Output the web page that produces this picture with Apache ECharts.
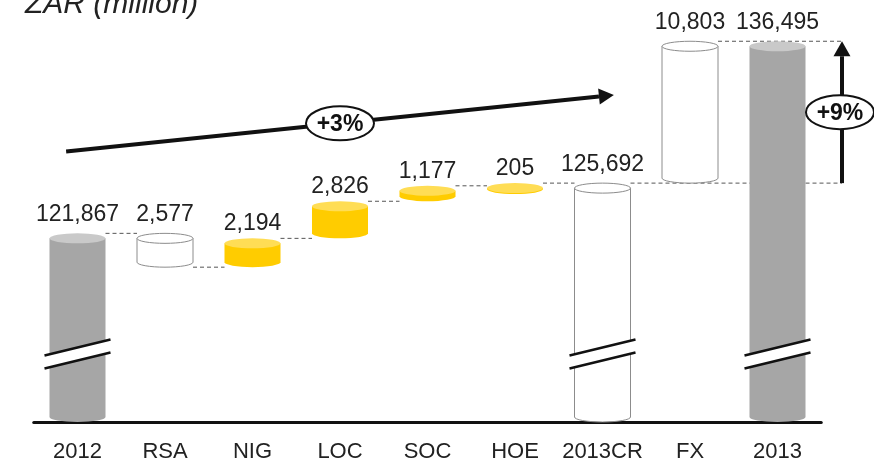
<!DOCTYPE html>
<html lang="en">
<head>
<meta charset="utf-8">
<title>ZAR waterfall</title>
<script src="https://cdn.jsdelivr.net/npm/echarts@6/dist/echarts.min.js"></script>
<style>
    html, body { margin: 0; padding: 0; background: #fff; }
    #main { width: 874px; height: 464px; }
</style>
</head>
<body>
<div id="main"></div>
<script type="text/javascript">
    // data
    var categories = ['2012', 'RSA', 'NIG', 'LOC', 'SOC', 'HOE', '2013CR', 'FX', '2013'];
    var values = [121867, -2577, 2194, 2826, 1177, 205, 125692, 10803, 136495];
    var isTotal = [true, false, false, false, false, false, true, false, true];
    var barColors = ['grey', 'white', 'yellow', 'yellow', 'yellow', 'yellow', 'white', 'white', 'grey'];
    var growthLabels = ['+3%', '+9%'];
    var trendValues = [128100, 132400];   // start / end level of the +3% arrow

    var yMin = 107500, yMax = 138000;     // axis is broken: starts far above zero

    var palette = {
        grey:   { body: '#a6a6a6', top: '#c9c9c9', stroke: null },
        yellow: { body: '#ffcc00', top: '#ffdd55', stroke: null },
        white:  { body: '#ffffff', top: '#ffffff', stroke: '#8c8c8c' }
    };
    var font = "'Liberation Sans', Arial, sans-serif";

    // running totals -> low/high of every cylinder
    var lows = [], highs = [], levels = [];
    var run = 0;
    for (var i = 0; i < values.length; i++) {
        if (isTotal[i]) {
            lows.push(yMin); highs.push(values[i]); run = values[i];
        } else {
            var next = run + values[i];
            lows.push(Math.min(run, next)); highs.push(Math.max(run, next)); run = next;
        }
        levels.push(run);
    }

    function ellipsePath(cx, cy, rx, ry) {
        return 'M' + (cx - rx) + ' ' + cy +
            'A' + rx + ' ' + ry + ' 0 1 0 ' + (cx + rx) + ' ' + cy +
            'A' + rx + ' ' + ry + ' 0 1 0 ' + (cx - rx) + ' ' + cy + 'Z';
    }

    function barWidth(api) { return api.size([1, 0])[0] * 0.64; }

    function renderBar(params, api) {
        var i = params.dataIndex;
        var pt = api.coord([i, highs[i]]);
        var cx = pt[0], yTop = pt[1];
        var yBot = api.coord([i, lows[i]])[1];
        var rx = barWidth(api) / 2, ry = 5;
        var ct = yTop + ry;
        var cb = Math.max(yBot - ry, ct + 1);
        var xl = cx - rx, xr = cx + rx;
        var pal = palette[barColors[i]];
        var children = [];
        children.push({
            type: 'path',
            shape: { pathData: 'M' + xl + ' ' + ct + 'L' + xl + ' ' + cb +
                'A' + rx + ' ' + ry + ' 0 0 0 ' + xr + ' ' + cb + 'L' + xr + ' ' + ct + 'Z' },
            style: { fill: pal.body, stroke: pal.stroke, lineWidth: 1 }
        });
        children.push({
            type: 'path',
            shape: { pathData: ellipsePath(cx, ct, rx, ry) },
            style: { fill: pal.top, stroke: pal.stroke, lineWidth: 1 }
        });
        if (isTotal[i]) {
            // axis break marks
            var yc = api.coord([i, yMin])[1] - 68;
            var ext = 5, sl = 8, g = 6.5;
            children.push({
                type: 'polygon',
                shape: { points: [[xl - ext, yc - g + sl], [xr + ext, yc - g - sl], [xr + ext, yc + g - sl], [xl - ext, yc + g + sl]] },
                style: { fill: '#fff' }
            });
            children.push({
                type: 'line',
                shape: { x1: xl - ext, y1: yc - g + sl, x2: xr + ext, y2: yc - g - sl },
                style: { stroke: '#111', lineWidth: 2.5 }
            });
            children.push({
                type: 'line',
                shape: { x1: xl - ext, y1: yc + g + sl, x2: xr + ext, y2: yc + g - sl },
                style: { stroke: '#111', lineWidth: 2.5 }
            });
        }
        var gap = barColors[i] === 'yellow' ? 3 : 7;
        children.push({
            type: 'text',
            style: {
                text: Math.abs(values[i]).toLocaleString('en-US'),
                x: cx, y: yTop - gap,
                align: 'center', verticalAlign: 'bottom',
                fontSize: 23, fontFamily: font, fill: '#222'
            }
        });
        return { type: 'group', children: children };
    }

    function arrowX(api) {
        var x8 = api.coord([8, yMin])[0];
        return x8 + api.size([1, 0])[0] * 0.737;
    }

    function renderConnector(params, api) {
        var i = params.dataIndex;
        var w = barWidth(api);
        var p = api.coord([i, levels[i]]);
        var x2 = i >= 6 ? arrowX(api) : api.coord([i + 1, levels[i]])[0] - w / 2;
        return {
            type: 'line',
            shape: { x1: p[0] + w / 2, y1: p[1], x2: x2, y2: p[1] },
            style: { stroke: '#555', lineWidth: 1, lineDash: [4, 3] }
        };
    }

    function arrowHead(x1, y1, x2, y2, len, half) {
        var dx = x2 - x1, dy = y2 - y1, d = Math.sqrt(dx * dx + dy * dy);
        var ux = dx / d, uy = dy / d;
        var bx = x2 - ux * len, by = y2 - uy * len;
        return {
            base: [bx, by],
            points: [[x2, y2], [bx - uy * half, by + ux * half], [bx + uy * half, by - ux * half]]
        };
    }

    function badge(cx, cy, text) {
        return [
            { type: 'path', shape: { pathData: ellipsePath(cx, cy, 34, 17) },
              style: { fill: '#fff', stroke: '#111', lineWidth: 2 } },
            { type: 'text', style: { text: text, x: cx, y: cy + 1, align: 'center', verticalAlign: 'middle',
              fontSize: 23, fontWeight: 'bold', fontFamily: font, fill: '#111' } }
        ];
    }

    function renderNotes(params, api) {
        var step = api.size([1, 0])[0];
        var x0 = api.coord([0, yMin])[0];
        var children = [];
        // +3% trend arrow
        var tx1 = x0 - 0.13 * step, tx2 = x0 + 6.13 * step;
        var ty1 = api.coord([0, trendValues[0]])[1], ty2 = api.coord([0, trendValues[1]])[1];
        var h = arrowHead(tx1, ty1, tx2, ty2, 15, 8);
        children.push({ type: 'line', shape: { x1: tx1, y1: ty1, x2: h.base[0], y2: h.base[1] },
            style: { stroke: '#111', lineWidth: 4 } });
        children.push({ type: 'polygon', shape: { points: h.points }, style: { fill: '#111' } });
        var bx = x0 + 3 * step;
        var by = ty1 + (ty2 - ty1) * (bx - tx1) / (tx2 - tx1);
        children = children.concat(badge(bx, by, growthLabels[0]));
        // +9% vertical arrow
        var ax = arrowX(api);
        var ay1 = api.coord([0, values[6]])[1], ay2 = api.coord([0, values[8]])[1];
        var h2 = arrowHead(ax, ay1, ax, ay2, 15, 8.5);
        children.push({ type: 'line', shape: { x1: ax, y1: ay1, x2: ax, y2: h2.base[1] },
            style: { stroke: '#111', lineWidth: 4 } });
        children.push({ type: 'polygon', shape: { points: h2.points }, style: { fill: '#111' } });
        children = children.concat(badge(ax - 2, (ay1 + ay2) / 2, growthLabels[1]));
        return { type: 'group', children: children };
    }

    var chart = echarts.init(document.getElementById('main'));

    var option = {
        animation: false,
        title: {
            text: 'ZAR (million)',
            left: 20, top: -15,
            textStyle: { fontSize: 30, fontStyle: 'italic', fontWeight: 'normal', fontFamily: font, color: '#222' }
        },
        grid: { left: 33.75, right: 52.75, top: 21.5, bottom: 42 },
        xAxis: {
            type: 'category',
            data: categories,
            axisLine: { lineStyle: { color: '#111', width: 3 } },
            axisTick: { show: false },
            axisLabel: { fontSize: 22, fontFamily: font, color: '#222', margin: 19, interval: 0 }
        },
        yAxis: {
            type: 'value', min: yMin, max: yMax, show: false, splitLine: { show: false }
        },
        series: [
            {
                type: 'custom', z: 1, renderItem: renderConnector,
                data: categories.slice(0, -1).map(function (c, i) { return [i, levels[i]]; })
            },
            {
                type: 'custom', z: 2, renderItem: renderBar,
                data: categories.map(function (c, i) { return [i, highs[i]]; })
            },
            {
                type: 'custom', z: 3, renderItem: renderNotes,
                data: [[0, yMin]]
            }
        ]
    };
    chart.setOption(option);
</script>
</body>
</html>
